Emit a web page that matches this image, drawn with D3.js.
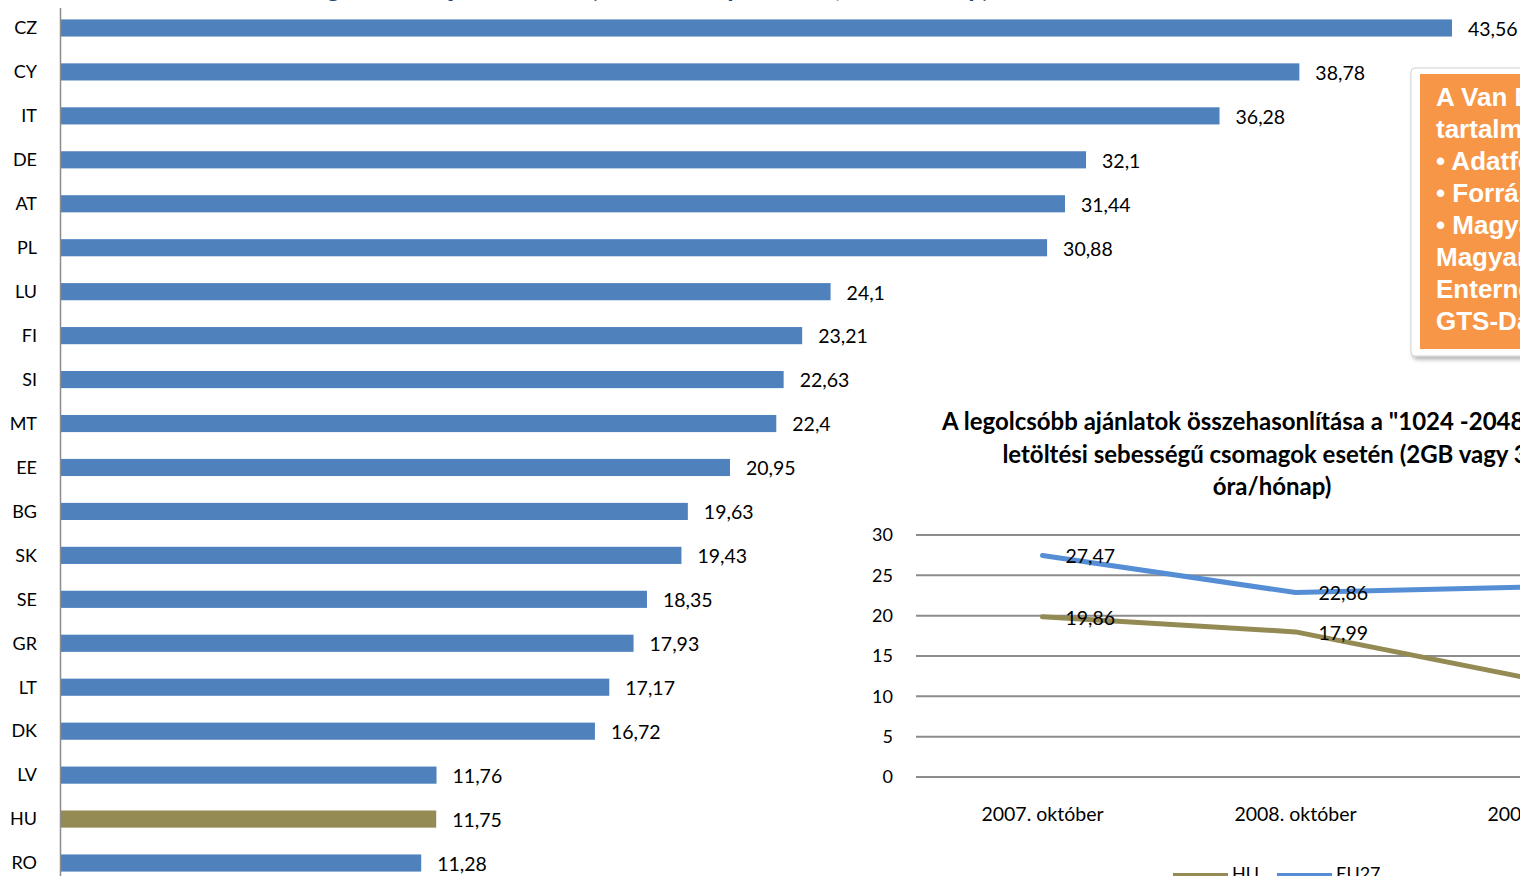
<!DOCTYPE html>
<html>
<head>
<meta charset="utf-8">
<script src="https://cdn.jsdelivr.net/npm/d3@7"></script>
<style>
body { margin: 0; background: #fff; overflow: hidden; }
text { font-family: Lato, "Open Sans", sans-serif; }
</style>
</head>
<body>
<svg id="svgfield" width="1520" height="876"></svg>
<script>
// bar chart data
var countries = ["CZ", "CY", "IT", "DE", "AT", "PL", "LU", "FI", "SI", "MT", "EE", "BG", "SK", "SE", "GR", "LT", "DK", "LV", "HU", "RO"];
var prices = [43.56, 38.78, 36.28, 32.1, 31.44, 30.88, 24.1, 23.21, 22.63, 22.4, 20.95, 19.63, 19.43, 18.35, 17.93, 17.17, 16.72, 11.76, 11.75, 11.28];

// line chart data
var months = ["2007. október", "2008. október", "2009. október"];
var hu = [19.86, 17.99, 11.75];
var eu27 = [27.47, 22.86, 23.6];
var yTicks = [0, 5, 10, 15, 20, 25, 30];
var seriesNames = ["HU", "EU27"];

var boxLines = ["A Van Dijk-jelentés", "tartalmazza:", "• Adatforgalom", "• Forrás: Van Dijk", "• Magyarország:", "Magyar Telekom,", "Enternet, Invitel,", "GTS-Datanet"];

var svg = d3.select("#svgfield");
var blue = "#4f81bd", olive = "#948a54", lineBlue = "#558ed5", grid = "#8c8c8c";
var fmt = function(v) { return String(v).replace(".", ","); };

// cut-off title at the very top
svg.append("text").attr("x", 300).attr("y", -3)
    .style("font-size", "26px").style("font-weight", "bold").attr("fill", "#1f497d")
    .text("Legolcsóbb ajánlatok ára (vásárlóerő-paritáson, EUR/hónap)");

// ---------- bar chart ----------
var x = d3.scaleLinear().domain([0, 43.56]).range([61, 1452]);
var y = d3.scaleBand().domain(countries).range([6, 885]).paddingInner(0.61).paddingOuter(0.305);

svg.selectAll("rect.bar").data(countries).enter().append("rect")
    .attr("class", "bar")
    .attr("x", x(0))
    .attr("y", function(d) { return y(d); })
    .attr("height", y.bandwidth())
    .attr("width", function(d, i) { return x(prices[i]) - x(0); })
    .attr("fill", function(d) { return d == "HU" ? olive : blue; });

svg.append("line").attr("x1", 60.5).attr("x2", 60.5).attr("y1", 8).attr("y2", 876)
    .attr("stroke", grid).attr("stroke-width", 1.5);

svg.selectAll("text.cat").data(countries).enter().append("text")
    .attr("class", "cat")
    .attr("x", 37).attr("y", function(d) { return y(d) + y.bandwidth() / 2; })
    .attr("dy", "0.35em").attr("text-anchor", "end")
    .style("font-size", "18px").text(function(d) { return d; });

svg.selectAll("text.val").data(countries).enter().append("text")
    .attr("class", "val")
    .attr("x", function(d, i) { return x(prices[i]) + 16; })
    .attr("y", function(d) { return y(d) + y.bandwidth() / 2 + 1; })
    .attr("dy", "0.35em")
    .style("font-size", "19.5px").text(function(d, i) { return fmt(prices[i]); });

// ---------- orange box ----------
var defs = svg.append("defs");
var f = defs.append("filter").attr("id", "shadow").attr("x", "-10%").attr("y", "-10%").attr("width", "130%").attr("height", "130%");
f.append("feDropShadow").attr("dx", 2).attr("dy", 3).attr("stdDeviation", 2).attr("flood-color", "#000").attr("flood-opacity", 0.3);

svg.append("rect").attr("x", 1411).attr("y", 68).attr("width", 200).attr("height", 288).attr("rx", 4)
    .attr("fill", "#fff").attr("stroke", "#d0d0d0").attr("filter", "url(#shadow)");
svg.append("rect").attr("x", 1420).attr("y", 74).attr("width", 200).attr("height", 275).attr("fill", "#f79646");
svg.selectAll("text.box").data(boxLines).enter().append("text")
    .attr("class", "box")
    .attr("x", 1436).attr("y", function(d, i) { return 106 + i * 32; })
    .attr("fill", "#fff")
    .style("font-family", "'Liberation Sans', Arial, sans-serif")
    .style("font-size", "26px").style("font-weight", "bold")
    .text(function(d) { return d; });

// ---------- line chart ----------
var titleLines = ["A legolcsóbb ajánlatok összehasonlítása a \"1024 -2048 kbit/s\"", "letöltési sebességű csomagok esetén (2GB vagy 30", "óra/hónap)"];
svg.selectAll("text.ltitle").data(titleLines).enter().append("text")
    .attr("class", "ltitle")
    .attr("x", 1272).attr("y", function(d, i) { return 422 + i * 32.5; })
    .attr("dy", "0.35em").attr("text-anchor", "middle")
    .style("font-size", "24px").style("font-weight", "bold")
    .text(function(d) { return d; });

var lx = d3.scaleBand().domain(months).range([916, 1675]);
var ly = d3.scaleLinear().domain([0, 30]).range([777, 535]);
var cx = function(d) { return lx(d) + lx.bandwidth() / 2; };

svg.selectAll("line.grid").data(yTicks).enter().append("line")
    .attr("class", "grid")
    .attr("x1", 916).attr("x2", 1700)
    .attr("y1", function(d) { return ly(d); }).attr("y2", function(d) { return ly(d); })
    .attr("stroke", grid).attr("stroke-width", 2);

svg.selectAll("text.ytick").data(yTicks).enter().append("text")
    .attr("class", "ytick")
    .attr("x", 893).attr("y", function(d) { return ly(d); })
    .attr("dy", "0.35em").attr("text-anchor", "end")
    .style("font-size", "18px").text(function(d) { return d; });

svg.selectAll("text.xtick").data(months).enter().append("text")
    .attr("class", "xtick")
    .attr("x", cx).attr("y", 814)
    .attr("dy", "0.35em").attr("text-anchor", "middle")
    .style("font-size", "19.5px").text(function(d) { return d; });

var series = [hu, eu27];
var colors = [olive, lineBlue];
var line = d3.line().x(function(d, i) { return cx(months[i]); }).y(function(d) { return ly(d); });

series.forEach(function(s, k) {
    svg.append("path").datum(s).attr("d", line)
        .attr("fill", "none").attr("stroke", colors[k]).attr("stroke-width", 5)
        .attr("stroke-linecap", "round").attr("stroke-linejoin", "round");
});
series.forEach(function(s, k) {
    svg.selectAll("text.lab" + k).data(s).enter().append("text")
        .attr("class", "lab" + k)
        .attr("x", function(d, i) { return cx(months[i]) + 23; })
        .attr("y", function(d) { return ly(d) + 1; })
        .attr("dy", "0.35em")
        .style("font-size", "19.5px").text(function(d) { return fmt(d); });
});

// legend
seriesNames.forEach(function(n, k) {
    var lx0 = 1173 + k * 104;
    svg.append("line").attr("x1", lx0).attr("x2", lx0 + 55).attr("y1", 875).attr("y2", 875)
        .attr("stroke", colors[k]).attr("stroke-width", 4);
    svg.append("text").attr("x", lx0 + 59).attr("y", 880)
        .style("font-size", "18px").text(n);
});
</script>
</body>
</html>
